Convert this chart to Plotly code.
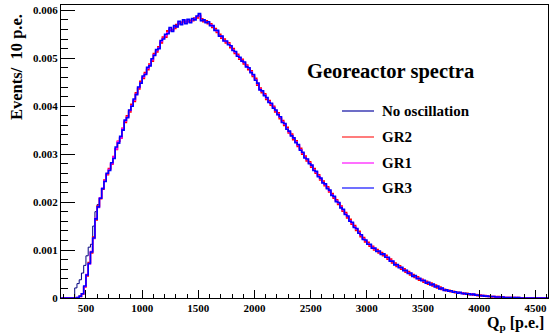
import numpy as np
import plotly.graph_objects as go

# Histogram binning (p.e.)
BIN_LO = 280
BIN_W = 20

# Bin contents in units of 1e-6 events / 10 p.e., bins starting at 280 p.e.
no_osc = [
    0, 0, 0, 0, 0, 0, 210, 300, 380, 520,
    680, 880, 1060, 1120, 1500, 1800, 1950, 2080, 2280, 2450,
    2580, 2680, 2800, 2930, 3120, 3250, 3350, 3520, 3680, 3780,
    3900, 4020, 4120, 4260, 4380, 4500, 4600, 4680, 4780, 4860,
    4960, 5080, 5150, 5220, 5340, 5420, 5460, 5540, 5600, 5580,
    5640, 5680, 5740, 5720, 5780, 5740, 5780, 5760, 5800, 5820,
    5860, 5900, 5800, 5780, 5760, 5740, 5700, 5660, 5600, 5560,
    5480, 5440, 5380, 5340, 5300, 5240, 5180, 5120, 5060, 5000,
    4960, 4900, 4840, 4780, 4720, 4640, 4560, 4460, 4360, 4300,
    4240, 4160, 4100, 4040, 3980, 3900, 3840, 3760, 3680, 3620,
    3540, 3460, 3400, 3320, 3260, 3180, 3100, 3020, 2940, 2880,
    2820, 2750, 2680, 2620, 2550, 2480, 2420, 2360, 2300, 2230,
    2160, 2100, 2030, 1970, 1900, 1830, 1760, 1690, 1620, 1560,
    1490, 1430, 1370, 1300, 1240, 1190, 1140, 1100, 1060, 1020,
    990, 960, 930, 900, 870, 830, 790, 750, 710, 680,
    650, 620, 590, 560, 530, 500, 470, 450, 420, 390,
    370, 350, 330, 310, 290, 270, 250, 230, 210, 190,
    170, 160, 150, 140, 130, 120, 110, 110, 100, 90,
    90, 80, 80, 70, 60, 60, 50, 50, 40, 40,
    30, 30, 30, 20, 20, 20, 20, 10, 10, 10,
    10, 10, 10, 10, 0, 0, 0, 0, 0, 0,
    0, 0, 0, 0, 0, 0, 0,
]

gr2 = [
    0, 0, 0, 0, 0, 0, 0, 0, 30, 80,
    230, 460, 740, 940, 1270, 1630, 1920, 2070, 2270, 2460,
    2570, 2700, 2790, 2950, 3100, 3270, 3330, 3540, 3660, 3800,
    3880, 4040, 4100, 4280, 4360, 4520, 4580, 4700, 4760, 4880,
    4940, 5100, 5130, 5240, 5320, 5440, 5440, 5570, 5580, 5600,
    5620, 5700, 5720, 5750, 5760, 5770, 5760, 5790, 5780, 5840,
    5840, 5880, 5820, 5760, 5780, 5720, 5720, 5640, 5620, 5540,
    5500, 5420, 5400, 5320, 5320, 5220, 5200, 5100, 5080, 4980,
    4980, 4880, 4860, 4760, 4740, 4620, 4580, 4440, 4380, 4280,
    4260, 4140, 4120, 4020, 4000, 3880, 3860, 3740, 3700, 3600,
    3560, 3440, 3420, 3300, 3280, 3160, 3120, 3000, 2960, 2860,
    2840, 2730, 2700, 2600, 2570, 2460, 2440, 2340, 2320, 2210,
    2180, 2080, 2050, 1950, 1920, 1810, 1780, 1670, 1640, 1540,
    1510, 1410, 1390, 1280, 1260, 1170, 1160, 1080, 1080, 1000,
    1010, 940, 950, 880, 890, 810, 810, 730, 730, 660,
    670, 600, 610, 540, 550, 480, 490, 430, 440, 370,
    390, 330, 350, 290, 310, 250, 270, 210, 230, 180,
    180, 150, 160, 130, 140, 110, 120, 100, 110, 80,
    100, 70, 90, 60, 70, 50, 60, 40, 50, 30,
    40, 20, 30, 20, 30, 10, 20, 10, 10, 10,
    10, 10, 0, 10, 0, 0, 0, 0, 0, 0,
    0, 0, 0, 0, 0, 0, 0,
]

gr1 = [
    0, 0, 0, 0, 0, 0, 0, 10, 30, 90,
    240, 490, 710, 970, 1240, 1660, 1890, 2090, 2290, 2440,
    2590, 2680, 2800, 2940, 3110, 3260, 3340, 3530, 3690, 3770,
    3910, 4010, 4130, 4250, 4390, 4490, 4610, 4670, 4790, 4850,
    4970, 5070, 5160, 5210, 5350, 5410, 5470, 5530, 5610, 5570,
    5660, 5660, 5760, 5710, 5790, 5730, 5800, 5750, 5810, 5820,
    5870, 5900, 5790, 5790, 5750, 5750, 5690, 5670, 5590, 5570,
    5470, 5450, 5370, 5350, 5290, 5250, 5170, 5130, 5050, 5010,
    4950, 4910, 4830, 4790, 4710, 4650, 4550, 4470, 4350, 4310,
    4230, 4170, 4090, 4050, 3970, 3910, 3830, 3770, 3670, 3630,
    3530, 3470, 3390, 3330, 3250, 3190, 3090, 3030, 2930, 2890,
    2810, 2760, 2670, 2630, 2540, 2490, 2410, 2370, 2290, 2240,
    2150, 2110, 2020, 1980, 1890, 1840, 1750, 1700, 1610, 1570,
    1480, 1440, 1360, 1310, 1230, 1200, 1130, 1110, 1050, 1030,
    980, 970, 920, 910, 860, 840, 780, 760, 700, 690,
    640, 630, 580, 570, 520, 510, 460, 460, 410, 400,
    370, 360, 320, 320, 280, 280, 240, 240, 200, 200,
    170, 160, 150, 140, 130, 120, 110, 110, 100, 90,
    90, 80, 80, 70, 60, 60, 50, 50, 40, 40,
    30, 30, 30, 20, 20, 20, 20, 10, 10, 10,
    10, 10, 10, 0, 0, 0, 0, 0, 0, 0,
    0, 0, 0, 0, 0, 0, 0,
]

gr3 = [
    0, 0, 0, 0, 0, 0, 0, 10, 40, 90,
    250, 480, 720, 960, 1250, 1650, 1900, 2080, 2280, 2430,
    2600, 2660, 2820, 2910, 3150, 3230, 3370, 3500, 3710, 3760,
    3920, 4000, 4150, 4240, 4400, 4480, 4630, 4660, 4810, 4840,
    4990, 5060, 5180, 5200, 5370, 5400, 5500, 5510, 5640, 5560,
    5680, 5650, 5770, 5700, 5800, 5720, 5810, 5740, 5830, 5800,
    5880, 5930, 5780, 5800, 5740, 5760, 5680, 5680, 5580, 5580,
    5460, 5460, 5360, 5360, 5280, 5260, 5160, 5140, 5040, 5020,
    4940, 4920, 4820, 4800, 4700, 4660, 4540, 4480, 4340, 4320,
    4220, 4180, 4080, 4060, 3960, 3920, 3820, 3780, 3660, 3640,
    3520, 3480, 3380, 3340, 3240, 3200, 3080, 3040, 2920, 2900,
    2800, 2770, 2660, 2640, 2530, 2500, 2400, 2380, 2280, 2250,
    2140, 2120, 2010, 1990, 1880, 1850, 1740, 1710, 1600, 1580,
    1470, 1450, 1350, 1320, 1220, 1210, 1120, 1120, 1040, 1040,
    970, 980, 910, 920, 850, 850, 770, 770, 690, 700,
    630, 640, 570, 580, 510, 520, 450, 470, 400, 410,
    360, 370, 310, 330, 270, 290, 230, 250, 190, 210,
    160, 170, 140, 150, 120, 130, 100, 120, 90, 100,
    80, 90, 70, 80, 60, 60, 50, 50, 40, 40,
    30, 30, 30, 20, 20, 20, 20, 10, 10, 10,
    10, 10, 10, 10, 0, 0, 0, 0, 0, 0,
    0, 0, 0, 0, 0, 0, 0,
]

series_names = ["No oscillation", "GR2", "GR1", "GR3"]
y_tickvals = [0, 0.001, 0.002, 0.003, 0.004, 0.005, 0.006]
y_ticktext = ["0", "0.001", "0.002", "0.003", "0.004", "0.005", "0.006"]
x_tickvals = [500, 1000, 1500, 2000, 2500, 3000, 3500, 4000, 4500]
x_ticktext = ["500", "1000", "1500", "2000", "2500", "3000", "3500", "4000", "4500"]

FONT = '"Liberation Serif", "Times New Roman", Times, serif'
styles = {
    "No oscillation": dict(color="#000080", width=1),
    "GR2": dict(color="#ff0000", width=1.6),
    "GR1": dict(color="#ff00ff", width=1.6),
    "GR3": dict(color="#0000ff", width=1.6),
}
legend_colors = {
    "No oscillation": "#3c3cb4",
    "GR2": "#ff5050",
    "GR1": "#ff40ff",
    "GR3": "#4040ff",
}

n = len(gr3)
edges = BIN_LO + BIN_W * np.arange(n + 1)

fig = go.Figure()
for name, vals in zip(series_names, [no_osc, gr2, gr1, gr3]):
    y = np.array(vals + [vals[-1]], dtype=float) * 1e-6
    fig.add_trace(go.Scatter(
        x=edges, y=y, mode="lines", line_shape="hv",
        line=styles[name], name=name, showlegend=False,
        hoverinfo="skip",
    ))

W, H = 549, 335
ML, MR, MT, MB = 61, 1, 5, 37
pw = W - ML - MR
ph = H - MT - MB


def px_x(x):
    return (x - ML) / pw


def px_y(y):
    return (H - MB - y) / ph


shapes = []
annotations = []
legend_rows = [111, 137, 163, 188]
for name, yy in zip(series_names, legend_rows):
    shapes.append(dict(type="line", xref="paper", yref="paper",
                       x0=px_x(342), x1=px_x(374), y0=px_y(yy), y1=px_y(yy),
                       line=dict(color=legend_colors[name], width=1.5)))
    annotations.append(dict(text="<b>%s</b>" % name, xref="paper", yref="paper",
                            x=px_x(380), y=px_y(yy), xanchor="left", yanchor="middle",
                            showarrow=False, font=dict(family=FONT, size=15, color="black")))

annotations.append(dict(text="<b>Georeactor spectra</b>", xref="paper", yref="paper",
                        x=px_x(390), y=px_y(72), xanchor="center", yanchor="middle",
                        showarrow=False, font=dict(family=FONT, size=20.5, color="black")))
annotations.append(dict(text="<b>Q<sub>p</sub> [p.e.]</b>", xref="paper", yref="paper",
                        x=px_x(546), y=px_y(323), xanchor="right", yanchor="middle",
                        showarrow=False, font=dict(family=FONT, size=16, color="black")))
annotations.append(dict(text="<b>Events/  10 p.e.</b>", xref="paper", yref="paper",
                        x=px_x(16), y=px_y(12), xanchor="center", yanchor="top",
                        textangle=-90, showarrow=False,
                        font=dict(family=FONT, size=16.5, color="black")))

fig.update_layout(
    width=W, height=H,
    margin=dict(l=ML, r=MR, t=MT, b=MB, pad=0),
    paper_bgcolor="white", plot_bgcolor="white",
    showlegend=False,
    shapes=shapes, annotations=annotations,
    font=dict(family=FONT, color="black"),
)
fig.update_xaxes(
    range=[278, 4612], showgrid=False, zeroline=False,
    showline=True, linecolor="black", linewidth=1, mirror=True,
    ticks="inside", ticklen=8, tickwidth=1, tickcolor="black",
    tickvals=x_tickvals, ticktext=["<b>%s</b>" % t for t in x_ticktext],
    tickfont=dict(family=FONT, size=11, color="black"),
    minor=dict(ticks="inside", ticklen=4, dtick=100, tick0=0, tickcolor="black", showgrid=False),
)
fig.update_yaxes(
    range=[0, 0.00611], showgrid=False, zeroline=False,
    showline=True, linecolor="black", linewidth=1, mirror=True,
    ticks="inside", ticklen=14, tickwidth=1, tickcolor="black",
    tickvals=y_tickvals, ticktext=["<b>%s</b>" % t for t in y_ticktext],
    tickfont=dict(family=FONT, size=11, color="black"),
    minor=dict(ticks="inside", ticklen=7, dtick=0.0002, tick0=0, tickcolor="black", showgrid=False),
)

fig.write_html(
    "out.html",
    config={"displayModeBar": False},
    post_script="document.body.style.margin='0';document.body.style.padding='0';",
)
